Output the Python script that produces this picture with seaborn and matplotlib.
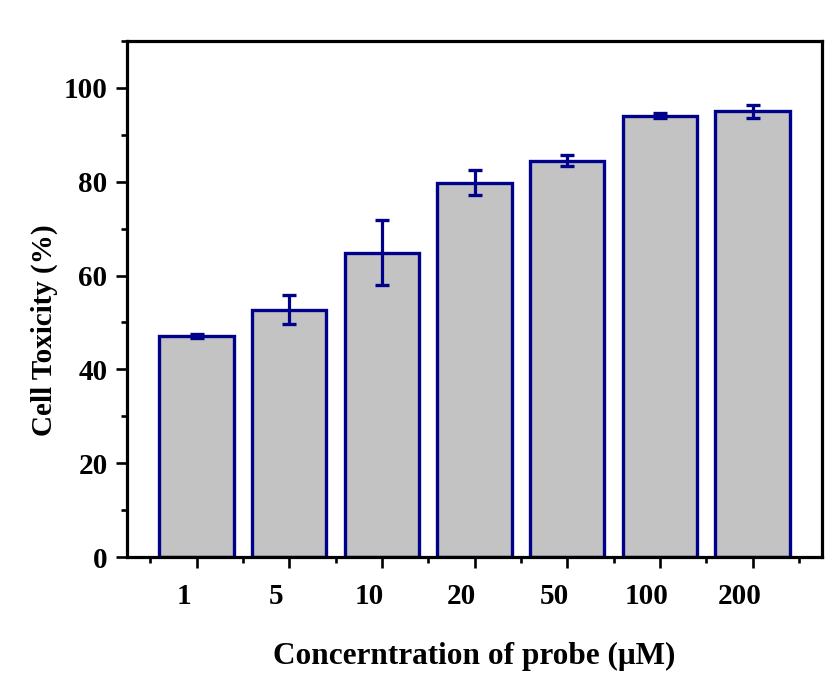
import matplotlib
matplotlib.use("Agg")
import matplotlib.pyplot as plt
import matplotlib.transforms as mtransforms
from matplotlib.ticker import FixedLocator, MultipleLocator
import numpy as np
import pandas as pd
import seaborn as sns

# Probe concentration (µM) and measured cell toxicity (%) with error
concentrations = ["1", "5", "10", "20", "50", "100", "200"]
toxicity = [47.1, 52.7, 64.9, 79.8, 84.5, 94.1, 95.0]
toxicity_err = [0.5, 3.1, 6.9, 2.6, 1.2, 0.6, 1.4]

sns.set_style("ticks")
plt.rcParams["font.family"] = ["Liberation Serif", "DejaVu Serif"]
plt.rcParams["font.weight"] = "bold"
for key in ["text.color", "axes.labelcolor", "xtick.color", "ytick.color",
            "axes.edgecolor"]:
    plt.rcParams[key] = "black"

navy = "#00008b"
fig = plt.figure(figsize=(8.26, 6.73), dpi=100)
ax = fig.add_axes([127 / 826, 1 - 557 / 673, (822 - 127) / 826, (557 - 41) / 673])

df = pd.DataFrame({"conc": concentrations, "tox": toxicity})
sns.barplot(data=df, x="conc", y="tox", order=concentrations, color="#c3c3c3",
            saturation=1, width=0.8, edgecolor=navy, linewidth=2.4,
            errorbar=None, ax=ax)
ax.errorbar(np.arange(len(concentrations)), toxicity, yerr=toxicity_err,
            fmt="none", ecolor=navy, elinewidth=2.3, capsize=5, capthick=2.4,
            zorder=5)

ax.set_xlim(-0.75, 6.75)
ax.set_ylim(0, 110)
ax.yaxis.set_major_locator(FixedLocator([0, 20, 40, 60, 80, 100]))
ax.yaxis.set_minor_locator(MultipleLocator(10))
ax.xaxis.set_minor_locator(FixedLocator(np.arange(-0.5, 7.0, 1.0)))

for side in ["left", "right", "top", "bottom"]:
    ax.spines[side].set_visible(True)
    ax.spines[side].set_linewidth(2.3)
    ax.spines[side].set_color("black")

ax.tick_params(axis="both", which="major", direction="out", length=8, width=1.9,
               labelsize=21, color="black", labelcolor="black")
ax.tick_params(axis="both", which="minor", direction="out", length=4, width=1.9,
               color="black")
ax.tick_params(axis="x", which="major", pad=11)
ax.tick_params(axis="y", which="major", pad=6)
ax.tick_params(top=False, right=False, which="both")

for lab in ax.get_xticklabels() + ax.get_yticklabels():
    lab.set_fontweight("bold")

# nudge the category labels slightly left of their ticks
shift = mtransforms.ScaledTranslation(-13 / 100, 0, fig.dpi_scale_trans)
for lab in ax.get_xticklabels():
    lab.set_transform(lab.get_transform() + shift)

ax.set_xlabel("Concerntration of probe (μM)", fontsize=22.5, fontweight="bold",
              color="black")
ax.set_ylabel("Cell Toxicity (%)", fontsize=21, fontweight="bold", color="black")
ax.xaxis.set_label_coords(0.5, -0.165)
ax.yaxis.set_label_coords(-0.099, 0.44)

fig.savefig("out.png", dpi=100)
